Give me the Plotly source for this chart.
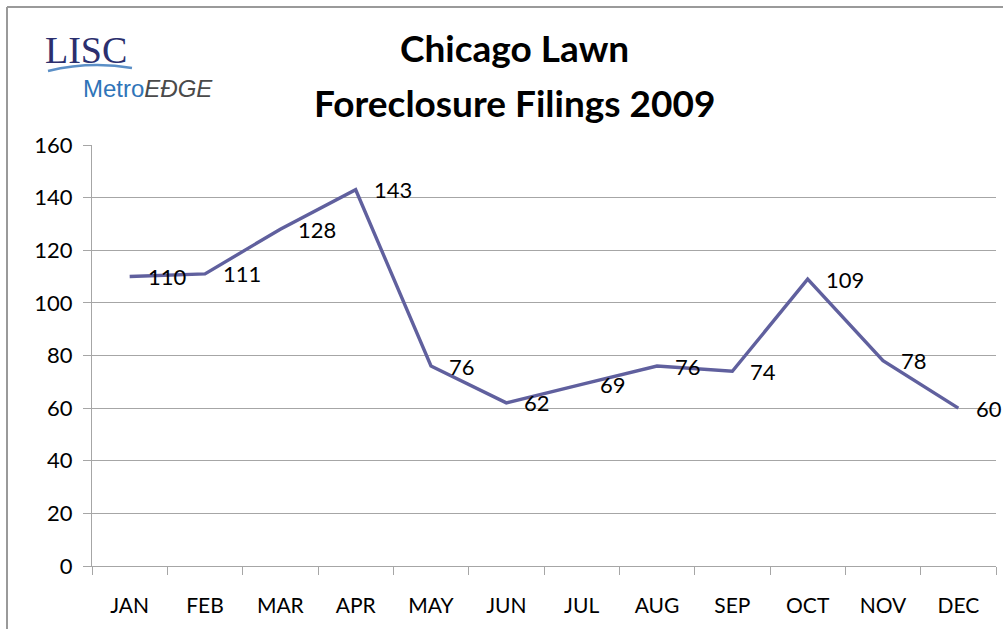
import plotly.graph_objects as go

months = ["JAN", "FEB", "MAR", "APR", "MAY", "JUN", "JUL", "AUG", "SEP", "OCT", "NOV", "DEC"]
filings = [110, 111, 128, 143, 76, 62, 69, 76, 74, 109, 78, 60]
title_lines = ["Chicago Lawn", "Foreclosure Filings 2009"]

W, H = 1003, 629
L, R, T, B = 92, 996, 145, 566  # plot area in page pixels

def px(x):
    return (x - L) / (R - L)

def py(y):
    return (B - y) / (B - T)

FONT = "Lato"
LINE = "#60609e"
GRID = "#a6a6a6"

fig = go.Figure()
fig.add_trace(go.Scatter(
    x=months, y=filings, mode="lines",
    line=dict(color=LINE, width=3.4),
    hoverinfo="x+y", showlegend=False,
))

annotations = []
for m, v in zip(months, filings):
    annotations.append(dict(
        x=m, y=v, xref="x", yref="y", text=str(v), showarrow=False,
        xanchor="left", yanchor="middle", xshift=16,
        font=dict(family=FONT, size=22, color="black"),
    ))

annotations.append(dict(x=px(514), y=py(48), xref="paper", yref="paper",
                        text="<b>%s</b>" % title_lines[0], showarrow=False,
                        xanchor="center", yanchor="middle",
                        font=dict(family=FONT, size=37, color="black")))
annotations.append(dict(x=px(514), y=py(103), xref="paper", yref="paper",
                        text="<b>%s</b>" % title_lines[1], showarrow=False,
                        xanchor="center", yanchor="middle",
                        font=dict(family=FONT, size=37, color="black")))

# logo
annotations.append(dict(x=px(43), y=py(50), xref="paper", yref="paper",
                        text="LISC", showarrow=False, xanchor="left", yanchor="middle",
                        font=dict(family="Liberation Serif", size=38, color="#2b2f6e")))
annotations.append(dict(x=px(81), y=py(88), xref="paper", yref="paper",
                        text="<span style='color:#2f74b8'>Metro</span><i>EĐGE</i>",
                        showarrow=False, xanchor="left", yanchor="middle",
                        font=dict(family="Liberation Sans", size=24, color="#4a4a4a")))

shapes = [
    # chart frame: left and top edges (right/bottom run off the picture)
    dict(type="line", xref="paper", yref="paper",
         x0=px(7), x1=px(7), y0=py(7), y1=py(640),
         line=dict(color="#9a9a9a", width=2), layer="below"),
    dict(type="line", xref="paper", yref="paper",
         x0=px(7), x1=px(1010), y0=py(7), y1=py(7),
         line=dict(color="#9a9a9a", width=2), layer="below"),
    dict(type="path", xref="paper", yref="paper",
         path="M %f %f Q %f %f %f %f" % (px(48), py(71), px(90), py(61), px(132), py(68)),
         line=dict(color="#5b8fc6", width=2.5)),
]

fig.update_layout(
    width=W, height=H,
    margin=dict(l=L, r=W - R, t=T, b=H - B),
    paper_bgcolor="white", plot_bgcolor="white",
    annotations=annotations, shapes=shapes,
    font=dict(family=FONT, size=22, color="black"),
    xaxis=dict(type="category", range=[-0.5, 11.5], showline=True, linecolor=GRID,
               linewidth=1, ticks="outside", tickson="boundaries", ticklen=8,
               tickcolor=GRID, showgrid=False, ticklabelstandoff=21,
               tickfont=dict(family=FONT, size=21, color="black")),
    yaxis=dict(range=[0, 160], dtick=20, showline=True, linecolor=GRID, linewidth=1,
               ticks="outside", ticklen=8, tickcolor=GRID, gridcolor=GRID, gridwidth=1,
               zeroline=False, ticklabelstandoff=6,
               tickfont=dict(family=FONT, size=22, color="black")),
)

fig.write_html(
    "out.html",
    config={"displayModeBar": False},
    post_script="document.body.style.margin='0';document.body.style.overflow='hidden';",
)
